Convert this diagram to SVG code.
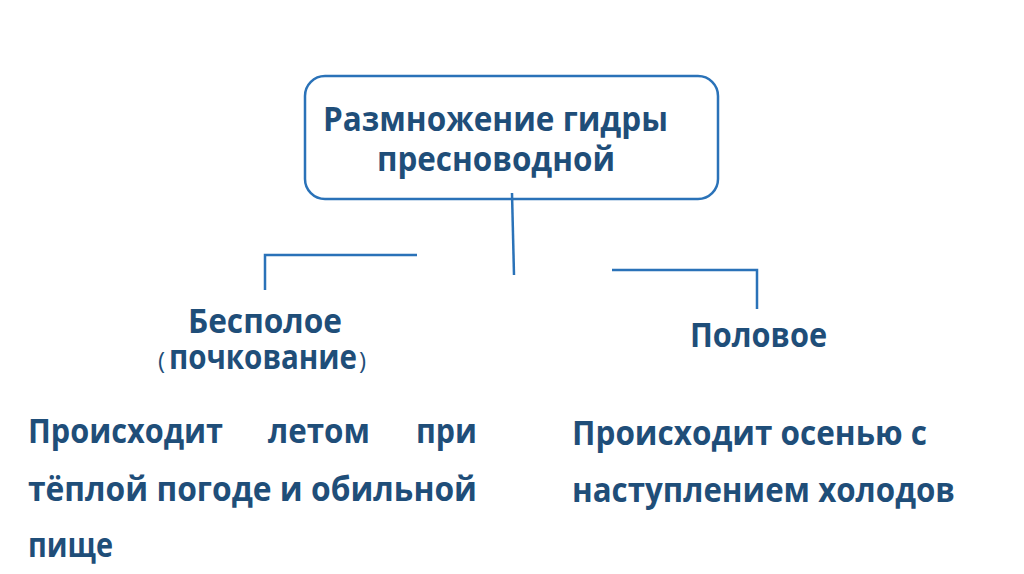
<svg xmlns="http://www.w3.org/2000/svg" width="1024" height="574" viewBox="0 0 1024 574">
<style>
.t{font-family:"Open Sans","Noto Sans","DejaVu Sans",sans-serif;font-weight:700;font-size:34px;fill:#1f4e79}
.p{font-weight:400;font-size:24px}
.ln{stroke:#2a72b8;stroke-width:2.5;fill:none}
</style>
<rect width="1024" height="574" fill="#ffffff"/>
<g id="root">
<rect x="305" y="76" width="413" height="123" rx="20" ry="20" fill="#ffffff" stroke="#2a72b8" stroke-width="2.5"/>
<text class="t" x="323" y="131" textLength="345" lengthAdjust="spacingAndGlyphs">Размножение гидры</text>
<text class="t" x="377" y="171" textLength="238" lengthAdjust="spacingAndGlyphs">пресноводной</text>
</g>
<g id="connectors">
<path class="ln" d="M512 193 L514 275"/>
<path class="ln" d="M265 290 L265 255 L417 255"/>
<path class="ln" d="M612 270 L757 270 L757 309"/>
</g>
<g id="asexual">
<text class="t" x="188" y="333" textLength="154" lengthAdjust="spacingAndGlyphs">Бесполое</text>
<text class="t" x="158" y="369"><tspan class="p">(</tspan><tspan x="169" textLength="188" lengthAdjust="spacingAndGlyphs">почкование</tspan><tspan class="p" x="359">)</tspan></text>
</g>
<g id="sexual">
<text class="t" x="690" y="347" textLength="137" lengthAdjust="spacingAndGlyphs">Половое</text>
</g>
<g id="asexual-desc">
<text class="t" x="28" y="443" textLength="195" lengthAdjust="spacingAndGlyphs">Происходит</text>
<text class="t" x="268" y="443" textLength="102" lengthAdjust="spacingAndGlyphs">летом</text>
<text class="t" x="416" y="443" textLength="61" lengthAdjust="spacingAndGlyphs">при</text>
<text class="t" x="28" y="501" textLength="449" lengthAdjust="spacingAndGlyphs">тёплой погоде и обильной</text>
<text class="t" x="28" y="557" textLength="85" lengthAdjust="spacingAndGlyphs">пище</text>
</g>
<g id="sexual-desc">
<text class="t" x="572" y="445" textLength="355" lengthAdjust="spacingAndGlyphs">Происходит осенью с</text>
<text class="t" x="572" y="502" textLength="383" lengthAdjust="spacingAndGlyphs">наступлением холодов</text>
</g>
</svg>
